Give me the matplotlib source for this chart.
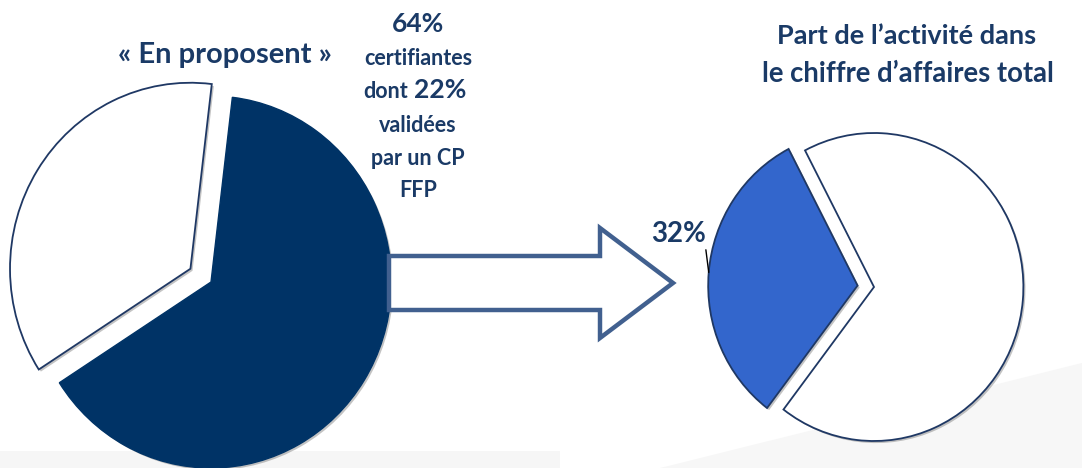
import numpy as np
import matplotlib

matplotlib.use("Agg")
import matplotlib.pyplot as plt
import matplotlib.patches as mpatches
import matplotlib.patheffects as pe
import matplotlib.transforms as mtransforms

plt.rcParams["font.family"] = ["Lato", "DejaVu Sans"]

# data
left_labels = ["Certifiantes", "Autres"]
left_shares = [64, 36]
right_labels = ["Activité", "Reste du CA"]
right_shares = [32, 68]
left_title = "« En proposent »"
right_title = "Part de l\u2019activité dans\nle chiffre d\u2019affaires total"
right_label = "32%"

NAVY = "#003366"
TEXT = "#1a3a66"
EDGE = "#1f3864"
BLUE = "#3366cc"
ARROW = "#41608f"

W, H = 1082, 468
SX = 0.97  # the source pies are slightly narrower than tall

fig = plt.figure(figsize=(W / 100, H / 100), dpi=100)
ax = fig.add_axes([0, 0, 1, 1])

# faint background shading at the bottom
ax.add_patch(mpatches.Rectangle((0, 0), 560, 17, color="#f6f6f6", zorder=0, lw=0))
ax.add_patch(mpatches.Polygon([(660, 0), (W, 105), (W, 0)], closed=True,
                              color="#f7f7f7", zorder=0, lw=0))

shadow = [pe.SimplePatchShadow(offset=(1.5, -1.5), shadow_rgbFace="#555555", alpha=0.35),
          pe.Normal()]


def squish(cx, cy):
    return mtransforms.Affine2D().translate(-cx, -cy).scale(SX, 1).translate(cx, cy)


# left pie (explode is in data units here, i.e. pixels)
lc = (211, 186)
lw, _ = ax.pie(left_shares, colors=[NAVY, "white"], explode=[0, 25],
               startangle=83.2, counterclock=False, center=lc, radius=186,
               frame=True)
lw[0].set_edgecolor(NAVY)
lw[1].set_edgecolor(EDGE)
lw[1].set_linewidth(1.3)
for w in lw:
    w.set_transform(squish(*lc) + ax.transData)
    w.set_path_effects(shadow)

# right pie
rc = (874, 181)
rw, _ = ax.pie(right_shares, colors=[BLUE, "white"], explode=[17, 0],
               startangle=117.5, counterclock=True, center=rc, radius=154,
               frame=True)
for w in rw:
    w.set_edgecolor(EDGE)
    w.set_linewidth(1.3)
    w.set_transform(squish(*rc) + ax.transData)
    w.set_path_effects(shadow)

ax.set_xlim(0, W)
ax.set_ylim(0, H)
ax.set_aspect("auto")
ax.axis("off")

# block arrow between the two pies
arrow = mpatches.FancyArrow(389, 185, 284, 0, width=54, head_width=110,
                            head_length=73, length_includes_head=True,
                            facecolor="white", edgecolor=ARROW, linewidth=3.2,
                            joinstyle="miter", zorder=5)
ax.add_patch(arrow)

# titles and notes
ax.text(225, H - 63, left_title, ha="center", va="baseline", fontsize=21,
        fontweight="bold", color=TEXT)
ax.text(907, H - 44, right_title.split("\n")[0], ha="center", va="baseline",
        fontsize=19.5, fontweight="bold", color=TEXT)
ax.text(908, H - 82, right_title.split("\n")[1], ha="center", va="baseline",
        fontsize=19.8, fontweight="bold", color=TEXT)

note_x = 418
big = dict(fontsize=19, fontweight="bold", color=TEXT, va="baseline")
small = dict(fontsize=15.5, fontweight="bold", color=TEXT, va="baseline")
ax.text(note_x, H - 32, f"{left_shares[0]}%", ha="center", **big)
ax.text(note_x, H - 65, "certifiantes", ha="center", **small)
ax.text(408, H - 98, "dont", ha="right", **small)
ax.text(414, H - 98, "22%", ha="left", **big)
ax.text(note_x, H - 132, "validées", ha="center", **small)
ax.text(note_x, H - 165, "par un CP", ha="center", **small)
ax.text(note_x, H - 197, "FFP", ha="center", **small)

# 32% label with leader line to the blue wedge rim
bw = rw[0]
mid = np.deg2rad((bw.theta1 + bw.theta2) / 2)
rim = squish(*rc).transform((bw.center[0] + bw.r * np.cos(mid),
                             bw.center[1] + bw.r * np.sin(mid)))
ax.annotate(right_label, xy=rim, xytext=(679, H - 242), ha="center", va="baseline",
            fontsize=20, fontweight="bold", color=TEXT,
            arrowprops=dict(arrowstyle="-", color="black", lw=1,
                            shrinkA=0, shrinkB=0, relpos=(0.97, 0.22)))

fig.savefig("out.png", dpi=100)
